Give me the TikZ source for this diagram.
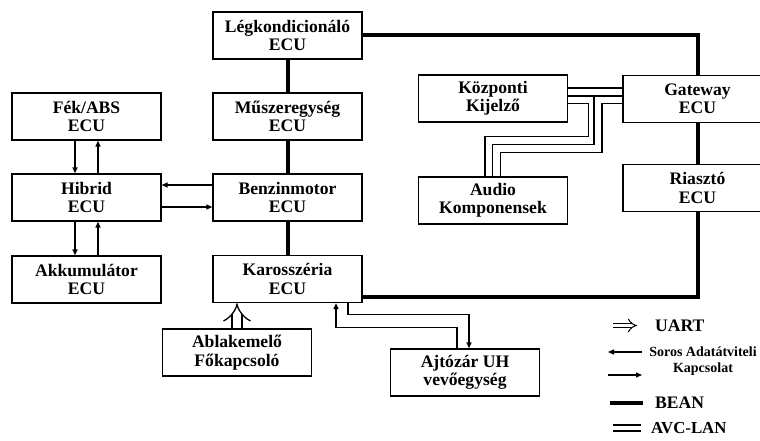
\documentclass[tikz,border=0pt]{standalone}
\usepackage{fontspec}
\setmainfont{Liberation Serif}
\usetikzlibrary{arrows.meta,calc}
\begin{document}
\begin{tikzpicture}[x=1pt,y=-1pt,line join=miter,
  ecu/.style={draw,line width=1.3pt,minimum width=149pt,minimum height=47pt,
    inner sep=0pt,align=center,font=\bfseries\fontsize{17.6}{18.5}\selectfont},
  bean/.style={line width=4pt},
  serial/.style={line width=1.3pt,-{Triangle[length=6pt,width=5pt]}},
  avc/.style={double,double distance=6.7pt,line width=1.3pt},
  uart/.style={double,double distance=8.7pt,line width=1.3pt,-{Implies}},
  lbl/.style={font=\bfseries\fontsize{17.6}{18.5}\selectfont,anchor=west,inner sep=0pt},
]
\clip (0,0) rectangle (760,441);

% ECU boxes
\node[ecu] (legk)  at (287.5,35.5)  {Légkondicionáló\\ECU};
\node[ecu] (musz)  at (287.5,116.5) {Műszeregység\\ECU};
\node[ecu] (benz)  at (287.5,197.5) {Benzinmotor\\ECU};
\node[ecu] (karo)  at (287.5,279)   {Karosszéria\\ECU};
\node[ecu] (fek)   at (86.5,116.5)  {Fék/ABS\\ECU};
\node[ecu] (hib)   at (86.5,197.5)  {Hibrid\\ECU};
\node[ecu] (akku)  at (86.5,279.5)  {Akkumulátor\\ECU};
\node[ecu] (abl)   at (237,352.5)   {Ablakemelő\\Főkapcsoló};
\node[ecu] (ajto)  at (465,372.5)   {Ajtózár UH\\vevőegység};
\node[ecu] (kozp)  at (493,98.5)    {Központi\\Kijelző};
\node[ecu] (audio) at (493,200.5)   {Audio\\Komponensek};
\node[ecu] (gate)  at (697.5,99)    {Gateway\\ECU};
\node[ecu] (rias)  at (697.5,188)   {Riasztó\\ECU};

% BEAN bus
\draw[bean] (legk.south) -- (musz.north);
\draw[bean] (musz.south) -- (benz.north);
\draw[bean] (benz.south) -- (karo.north);
\draw[bean] (legk.east) -| (gate.north);
\draw[bean] (gate.south) -- (rias.north);
\draw[bean] (rias.south) |- ($(karo.east)+(0,17.5)$);

% serial links
\draw[serial] ($(fek.south)+(-11.5,0)$) -- ($(hib.north)+(-11.5,0)$);
\draw[serial] ($(hib.north)+(11.5,0)$) -- ($(fek.south)+(11.5,0)$);
\draw[serial] ($(hib.south)+(-11.5,0)$) -- ($(akku.north)+(-11.5,0)$);
\draw[serial] ($(akku.north)+(11.5,0)$) -- ($(hib.south)+(11.5,0)$);
\draw[serial] ($(benz.west)+(0,-12.5)$) -- ($(hib.east)+(0,-12.5)$);
\draw[serial] ($(hib.east)+(0,9.5)$) -- ($(benz.west)+(0,9.5)$);
\draw[serial] ($(karo.south)+(60.5,0)$) -- ++(0,11) -| ($(ajto.north)+(4,0)$);
\draw[serial] ($(ajto.north)+(-8,0)$) -- ++(0,-21) -| ($(karo.south)+(48.5,0)$);

% UART link
\draw[uart] (abl.north) -- (abl.north |- karo.south);

% AVC-LAN links
\draw[avc] ($(kozp.east)+(0,1)$) -- ++(24,0) |- ($(audio.north)+(-4,-36)$) -- ($(audio.north)+(-4,0)$);
\draw[avc] ($(gate.west)+(0,0.5)$) -- ++(-24.5,0) |- ($(audio.north)+(3.5,-28)$) -- ($(audio.north)+(3.5,0)$);
\draw[avc] ($(kozp.east)+(0,-6.5)$) -- ($(gate.west)+(0,-7)$);

% legend
\coordinate (lua) at (613,325.5); \coordinate (lub) at (637,325.5);
\coordinate (lla) at (642,352);   \coordinate (llb) at (608,352);
\coordinate (lra) at (608,375);   \coordinate (lrb) at (642,375);
\coordinate (lba) at (610,403);   \coordinate (lbb) at (643,403);
\coordinate (laa) at (613,428);   \coordinate (lab) at (641,428);
\draw[double,double distance=3.7pt,line width=1pt,-{Implies[scale=1.8]}] (lua) -- (lub);
\draw[serial] (lla) -- (llb);
\draw[serial] (lra) -- (lrb);
\draw[bean,line width=4.5pt] (lba) -- (lbb);
\draw[avc,double distance=4.7pt] (laa) -- (lab);
\node[lbl] (tuart) at (655,326) {UART};
\node[align=center,inner sep=0pt,font=\bfseries\fontsize{14}{15.5}\selectfont] (tsoros) at (703,361) {Soros Adatátviteli\\Kapcsolat};
\node[lbl] (tbean) at (655,403) {BEAN};
\node[lbl,font=\bfseries\fontsize{16.8}{18}\selectfont] (tavc) at (651,428) {AVC-LAN};
\end{tikzpicture}
\end{document}
